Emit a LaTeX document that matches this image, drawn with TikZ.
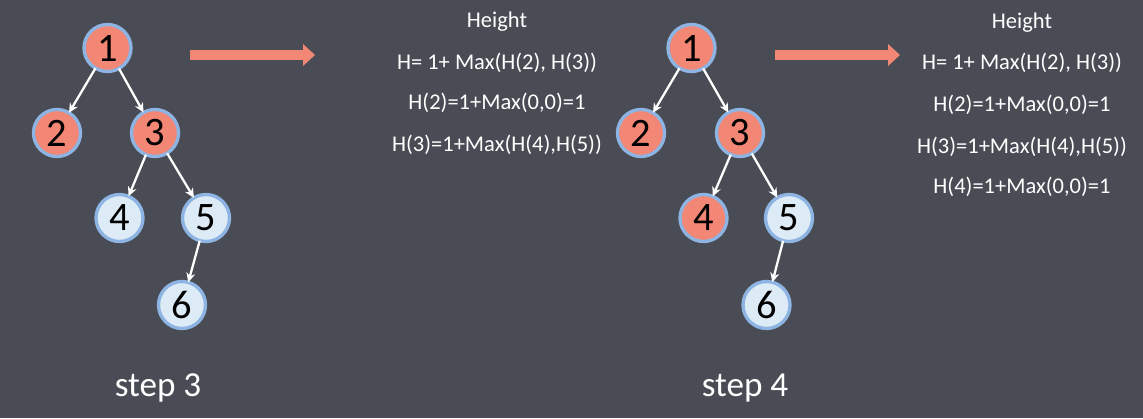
\documentclass[tikz,border=0pt]{standalone}
\usepackage{fontspec}
\setmainfont{Carlito}
\usetikzlibrary{arrows.meta}
\definecolor{bg}{RGB}{73,76,84}
\definecolor{salmon}{RGB}{242,135,117}
\definecolor{ring}{RGB}{141,180,226}
\definecolor{pale}{RGB}{221,235,247}

\begin{document}
\begin{tikzpicture}[
	visited/.style={draw=ring,circle,fill=salmon,line width=1.9pt,inner sep=0,outer sep=0,minimum size=0.94cm,font=\fontsize{23}{23}\selectfont},
	fresh/.style={visited,fill=pale},
	edge/.style={draw=white,line width=1.3pt,-{Stealth[length=1.9mm,width=1.8mm]}},
	bigarrow/.style={draw=salmon,line width=6.2pt,-{Triangle[length=0.24cm,width=0.44cm,line width=0pt]}},
	calc/.style={text=white,font=\fontsize{12.8}{12.8}\selectfont},
	caption/.style={text=white,font=\fontsize{20}{20}\selectfont}]
	\fill[bg] (0,0) rectangle (22.86,8.36);
	\useasboundingbox (0,0) rectangle (22.86,8.36);
	% step 3
	\node[visited] (l1) at (2.15,7.40) {1};
	\node[visited] (l2) at (1.14,5.70) {2};
	\node[visited] (l3) at (3.10,5.70) {3};
	\node[fresh] (l4) at (2.39,4.00) {4};
	\node[fresh] (l5) at (4.12,4.00) {5};
	\node[fresh] (l6) at (3.64,2.26) {6};
	\draw[edge] (l1) -- (l2);
	\draw[edge] (l1) -- (l3);
	\draw[edge] (l3) -- (l4);
	\draw[edge] (l3) -- (l5);
	\draw[edge] (l5) -- (l6);
	\coordinate (la) at (3.80,7.26);
	\coordinate (lb) at (6.30,7.26);
	\draw[bigarrow] (la) -- (lb);
	\node[calc] (lh) at (9.94,7.92) {Height};
	\node[calc] (lc1) at (9.94,7.10) {H= 1+ Max(H(2), H(3))};
	\node[calc] (lc2) at (9.94,6.30) {H(2)=1+Max(0,0)=1};
	\node[calc] (lc3) at (9.94,5.46) {H(3)=1+Max(H(4),H(5))};
	\node[caption] (ls) at (3.16,0.60) {step 3};
	% step 4
	\node[visited] (r1) at (13.83,7.40) {1};
	\node[visited] (r2) at (12.82,5.70) {2};
	\node[visited] (r3) at (14.80,5.70) {3};
	\node[visited] (r4) at (14.07,4.00) {4};
	\node[fresh] (r5) at (15.78,4.00) {5};
	\node[fresh] (r6) at (15.33,2.26) {6};
	\draw[edge] (r1) -- (r2);
	\draw[edge] (r1) -- (r3);
	\draw[edge] (r3) -- (r4);
	\draw[edge] (r3) -- (r5);
	\draw[edge] (r5) -- (r6);
	\coordinate (ra) at (15.50,7.26);
	\coordinate (rb) at (18.00,7.26);
	\draw[bigarrow] (ra) -- (rb);
	\node[calc] (rh) at (20.44,7.90) {Height};
	\node[calc] (rc1) at (20.44,7.10) {H= 1+ Max(H(2), H(3))};
	\node[calc] (rc2) at (20.44,6.26) {H(2)=1+Max(0,0)=1};
	\node[calc] (rc3) at (20.44,5.42) {H(3)=1+Max(H(4),H(5))};
	\node[calc] (rc4) at (20.44,4.62) {H(4)=1+Max(0,0)=1};
	\node[caption] (rs) at (14.90,0.60) {step 4};
\end{tikzpicture}
\end{document}
